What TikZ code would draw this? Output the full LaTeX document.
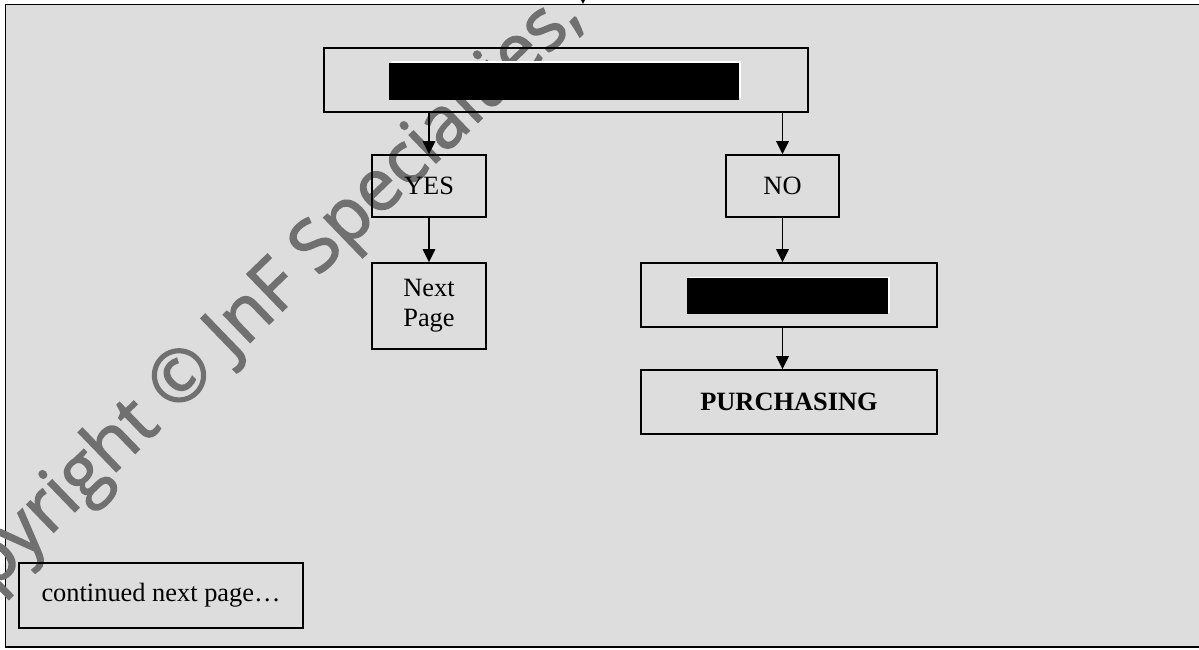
\documentclass[tikz,border=0pt]{standalone}
\usepackage{fontspec}
\setmainfont{Liberation Serif}
\newfontfamily\wmfont[FakeBold=2]{Open Sans}
\usetikzlibrary{arrows.meta}
\definecolor{bggray}{RGB}{221,221,221}
\definecolor{wmgray}{RGB}{112,112,112}

\begin{document}
\begin{tikzpicture}[x=1pt, y=-1pt, line width=1.7pt,
  box/.style={draw, inner sep=0pt, align=center, font=\fontsize{26.4}{30}\selectfont},
  redact/.style={fill=black, inner sep=0pt,
    preaction={fill=white, transform canvas={shift={(1.5pt,1.5pt)}}}},
  arr/.style={-{Triangle[length=13pt,width=12.5pt]}}]
  % 画布 1199 x 650, 单位 = 1 像素, y 轴向下
  % 外框右边超出画布, 只见上, 左, 下三边
  \useasboundingbox (0,0) rectangle (1199,650);
  \clip (0,0) rectangle (1199,650);
  \filldraw[fill=bggray] (5.5,4.5) rectangle (1205,647);
  % 水印 (约 44 度, 灰色)
  \node[wmgray, rotate=44, anchor=base east, inner sep=0pt,
    font=\wmfont\fontsize{72}{80}\selectfont] (wm) at (585,19) {Copyright © JnF Specialties,};
  % 上一页来的箭头, 只露出箭头尖
  \coordinate (prevpage) at (583,-12);
  \coordinate (frametop) at (583,4);
  \draw[arr] (prevpage) -- (frametop);
  \node[box, minimum width=484pt, minimum height=64pt] (top) at (566,80) {};
  \node[redact, minimum width=350pt, minimum height=37pt] (topmask) at (564,81.5) {};
  \node[box, minimum width=114pt, minimum height=62pt] (yes) at (429,186) {YES};
  \node[box, minimum width=113pt, minimum height=62pt] (no) at (782.5,186) {NO};
  \node[box, minimum width=114pt, minimum height=86pt] (next) at (429,306) {Next\\Page};
  \node[box, minimum width=296pt, minimum height=64pt] (mid) at (789,295) {};
  \node[redact, minimum width=201pt, minimum height=36pt] (midmask) at (787.5,296) {};
  \node[box, minimum width=296pt, minimum height=64pt] (purch) at (789,402) {\bfseries PURCHASING};
  \node[box, minimum width=284pt, minimum height=65pt] (cont) at (161,595.5) {continued next page…};
  \draw[arr] (yes.north |- top.south) -- (yes.north);
  \draw[arr] (no.north |- top.south) -- (no.north);
  \draw[arr] (yes.south) -- (next.north);
  \draw[arr] (no.south) -- (no.south |- mid.north);
  \draw[arr] (no.south |- mid.south) -- (no.south |- purch.north);
\end{tikzpicture}
\end{document}
